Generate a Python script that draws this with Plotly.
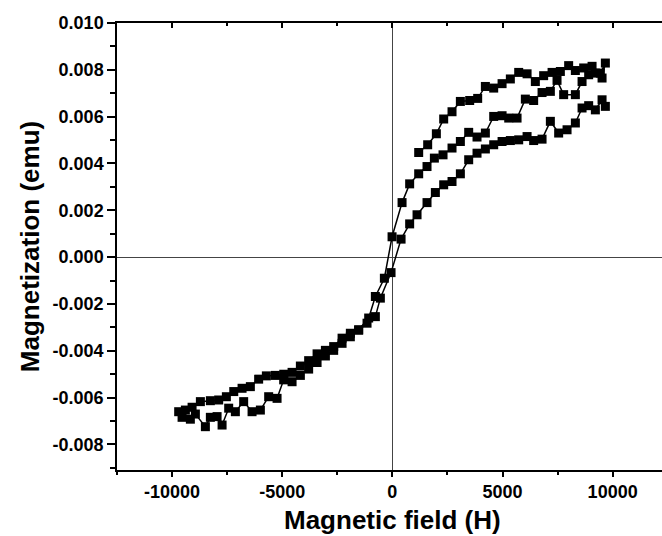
import plotly.graph_objects as go

# Branch 1: initial rise (field increasing)
H1 = [1195, 1603, 1997, 2330, 2708, 3087, 3510, 3873, 4222, 4600, 4980, 5356, 5735, 6115,
      6491, 6868, 7250, 7626, 8003, 8307, 8685, 9065, 9442, 9669]
M1 = [0.00447, 0.00480, 0.00527, 0.00590, 0.00621, 0.00665, 0.00669, 0.00678, 0.00729, 0.00722,
      0.00741, 0.00761, 0.00789, 0.00783, 0.00750, 0.00775, 0.00789, 0.00793, 0.00818, 0.00797,
      0.00808, 0.00815, 0.00786, 0.00829]

# Branch 2: descending field
H2 = [9519, 9215, 8911, 8611, 8307, 7776, 7475, 7172, 6795, 6414, 6037, 5660, 5282, 4980, 4600,
      4222, 3843, 3465, 3087, 2708, 2300, 1907, 1573, 1195, 785, 440, -14, -363, -772, -1075,
      -1530, -1907, -2283, -2664, -3040, -3418, -3800, -4176, -4553, -4930, -5311, -5720, -6070,
      -6446, -6823, -7200, -7535, -7884, -8262, -8715, -9092, -9396, -9700]
M2 = [0.00765, 0.00786, 0.00779, 0.00750, 0.00694, 0.00694, 0.00755, 0.00708, 0.00703, 0.00669,
      0.00675, 0.00594, 0.00594, 0.00604, 0.00601, 0.00530, 0.00513, 0.00533, 0.00494, 0.00466,
      0.00437, 0.00423, 0.00387, 0.00356, 0.00313, 0.00233, 0.00087, -0.00090, -0.00168, -0.00260,
      -0.00310, -0.00325, -0.00346, -0.00382, -0.00398, -0.00413, -0.00442, -0.00465, -0.00492,
      -0.00500, -0.00505, -0.00507, -0.00521, -0.00553, -0.00560, -0.00574, -0.00596, -0.00610,
      -0.00613, -0.00617, -0.00641, -0.00653, -0.00660]

# Branch 3: ascending field
H3 = [-9546, -9170, -8942, -8488, -8262, -7957, -7730, -7430, -7127, -6750, -6369, -5992, -5615,
      -5234, -4934, -4553, -4176, -3800, -3418, -3040, -2664, -2283, -1907, -1530, -1150, -772,
      -545, -60, 395, 785, 1120, 1573, 1952, 2330, 2708, 3087, 3465, 3843, 4222, 4600, 4980, 5356,
      5735, 6115, 6414, 6795, 7172, 7549, 7930, 8307, 8611, 8911, 9215, 9519, 9669]
M3 = [-0.00684, -0.00692, -0.00670, -0.00724, -0.00684, -0.00681, -0.00717, -0.00645, -0.00660,
      -0.00617, -0.00660, -0.00653, -0.00596, -0.00603, -0.00524, -0.00532, -0.00505, -0.00478,
      -0.00450, -0.00422, -0.00398, -0.00368, -0.00340, -0.00312, -0.00282, -0.00254, -0.00175,
      -0.00066, 0.00077, 0.00142, 0.00181, 0.00233, 0.00276, 0.00309, 0.00323, 0.00356, 0.00416,
      0.00444, 0.00462, 0.00480, 0.00494, 0.00498, 0.00501, 0.00515, 0.00498, 0.00504, 0.00580,
      0.00530, 0.00544, 0.00573, 0.00637, 0.00647, 0.00629, 0.00672, 0.00644]

x_ticks = [-10000, -5000, 0, 5000, 10000]
x_labels = ["-10000", "-5000", "0", "5000", "10000"]
y_ticks = [-0.008, -0.006, -0.004, -0.002, 0.0, 0.002, 0.004, 0.006, 0.008, 0.010]
y_labels = ["-0.008", "-0.006", "-0.004", "-0.002", "0.000", "0.002", "0.004", "0.006", "0.008", "0.010"]

H = H1 + H2 + H3
M = M1 + M2 + M3

FONT = "Arial, Liberation Sans, sans-serif"

fig = go.Figure()
fig.add_trace(go.Scatter(
    x=H, y=M, mode="lines+markers",
    line=dict(color="black", width=1.5),
    marker=dict(symbol="square", size=9, color="black"),
    showlegend=False, hoverinfo="skip",
))
# invisible trace so the mirrored top axis is drawn
fig.add_trace(go.Scatter(x=[0], y=[0], xaxis="x2", mode="markers",
                         marker=dict(opacity=0), showlegend=False, hoverinfo="skip"))

fig.update_layout(
    width=662, height=536,
    margin=dict(l=117, r=0, t=23, b=66),
    paper_bgcolor="white", plot_bgcolor="white",
    font=dict(family=FONT, color="black"),
    xaxis=dict(
        range=[-12500, 12240], tickvals=x_ticks, ticktext=x_labels,
        ticks="outside", ticklen=5, tickwidth=1.5, tickcolor="black",
        minor=dict(dtick=2500, tick0=0, ticks="outside", ticklen=3, tickwidth=1.5, tickcolor="black"),
        showline=True, linecolor="black", linewidth=1.5,
        showgrid=False, zeroline=True, zerolinecolor="#444", zerolinewidth=1,
        tickfont=dict(size=18, family=FONT, weight="bold"),
    ),
    xaxis2=dict(
        overlaying="x", side="top", matches="x", range=[-12500, 12240],
        tickvals=x_ticks, showticklabels=False,
        ticks="inside", ticklen=5, tickwidth=1.5, tickcolor="black",
        minor=dict(dtick=2500, tick0=0, ticks="inside", ticklen=3, tickwidth=1.5, tickcolor="black"),
        showline=True, linecolor="black", linewidth=1.5, showgrid=False, zeroline=False,
    ),
    yaxis=dict(
        range=[-0.00909, 0.010], tickvals=y_ticks, ticktext=y_labels,
        ticks="outside", ticklen=8, tickwidth=1.5, tickcolor="black",
        minor=dict(dtick=0.001, tick0=0, ticks="outside", ticklen=5, tickwidth=1.5, tickcolor="black"),
        showline=True, linecolor="black", linewidth=1.5,
        showgrid=False, zeroline=True, zerolinecolor="#444", zerolinewidth=1,
        tickfont=dict(size=18, family=FONT, weight="bold"),
        title=dict(text="<b>Magnetization (emu)</b>", font=dict(size=26, family=FONT), standoff=6),
    ),
    annotations=[dict(
        text="<b>Magnetic field (H)</b>", x=0, xref="x", y=-0.111, yref="paper",
        xanchor="center", yanchor="middle", showarrow=False,
        font=dict(size=26, family=FONT, color="black"),
    )],
)

fig.write_html("out.html")
